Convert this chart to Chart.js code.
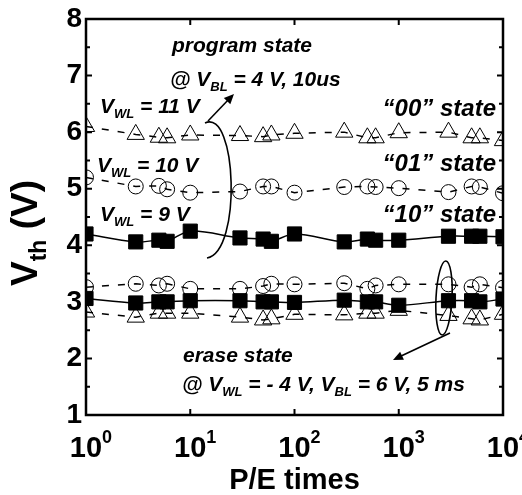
<!DOCTYPE html>
<html>
<head>
<meta charset="utf-8">
<script src="https://cdn.jsdelivr.net/npm/chart.js@4"></script>
<style>
  body { margin: 0; background: #fff; }
  #wrap { width: 522px; height: 495px; }
</style>
</head>
<body>
<div id="wrap"><canvas id="vth-chart"></canvas></div>
<script>
// P/E cycle counts
const peTimes = [1, 3, 5, 6, 10, 30, 50, 60, 100, 300, 500, 600, 1000, 3000, 5000, 6000, 10000];

// program states
const prog00 = [6.1, 5.96, 5.91, 5.9, 5.95, 5.94, 5.92, 5.95, 5.98, 6.0, 5.9, 5.9, 5.99, 6.0, 5.9, 5.9, 5.85];
const prog01 = [5.2, 5.04, 5.05, 4.99, 4.93, 4.95, 5.04, 5.04, 4.93, 5.03, 5.04, 5.03, 5.01, 4.94, 5.04, 5.03, 4.92];
const prog10 = [4.2, 4.06, 4.09, 4.07, 4.25, 4.13, 4.11, 4.07, 4.2, 4.06, 4.11, 4.09, 4.09, 4.16, 4.16, 4.16, 4.15];

// erase states
const erase01 = [3.26, 3.32, 3.29, 3.32, 3.23, 3.23, 3.28, 3.32, 3.31, 3.33, 3.23, 3.29, 3.31, 3.31, 3.26, 3.31, 3.25];
const erase10 = [3.06, 2.98, 3.0, 3.0, 3.02, 3.02, 3.0, 3.0, 2.99, 3.03, 3.0, 3.0, 2.94, 3.02, 3.02, 3.0, 3.05];
const erase00 = [2.82, 2.73, 2.8, 2.8, 2.8, 2.73, 2.68, 2.7, 2.78, 2.77, 2.8, 2.8, 2.85, 2.76, 2.7, 2.68, 2.78];

const xTicks = [1, 10, 100, 1000, 10000];
const yTicks = [1, 2, 3, 4, 5, 6, 7, 8];

const FONT = '"Liberation Sans", Arial, sans-serif';

function pts(vals) {
  return peTimes.map((x, i) => ({ x: x, y: vals[i] }));
}

function series(vals, style, dashed) {
  return {
    data: pts(vals),
    borderColor: '#000',
    borderWidth: 1.5,
    borderDash: dashed ? [7, 9] : [],
    tension: dashed ? 0 : 0.35,
    pointStyle: style,
    pointRadius: style === 'circle' ? 7.5 : 10,
    pointBorderWidth: 1,
    pointBorderColor: '#000',
    pointBackgroundColor: style === 'rect' ? '#000' : 'rgba(255,255,255,0)',
    clip: 0
  };
}

// text with sub/superscripts: parts = [[text, 'n'|'sub'|'sup'], ...]
function richText(ctx, parts, x, y, size, align, style) {
  const big = `${style} ${size}px ${FONT}`;
  const small = `${style} ${Math.round(size * 0.62)}px ${FONT}`;
  let w = 0;
  parts.forEach(p => {
    ctx.font = p[1] === 'n' ? big : small;
    w += ctx.measureText(p[0]).width;
  });
  let cx = align === 'right' ? x - w : align === 'center' ? x - w / 2 : x;
  ctx.textBaseline = 'alphabetic';
  ctx.textAlign = 'left';
  parts.forEach(p => {
    ctx.font = p[1] === 'n' ? big : small;
    let dy = 0;
    if (p[1] === 'sub') dy = size * 0.25;
    if (p[1] === 'sup') dy = -size * 0.5;
    ctx.fillText(p[0], cx, y + dy);
    cx += ctx.measureText(p[0]).width;
  });
}

function arrowHead(ctx, x0, y0, x1, y1, len, wid) {
  const a = Math.atan2(y1 - y0, x1 - x0);
  ctx.beginPath();
  ctx.moveTo(x1, y1);
  ctx.lineTo(x1 - len * Math.cos(a) + wid * Math.sin(a), y1 - len * Math.sin(a) - wid * Math.cos(a));
  ctx.lineTo(x1 - len * Math.cos(a) - wid * Math.sin(a), y1 - len * Math.sin(a) + wid * Math.cos(a));
  ctx.closePath();
  ctx.fill();
}

const framePlugin = {
  id: 'frame',
  afterDraw(chart) {
    const ctx = chart.ctx;
    const a = chart.chartArea;
    const xs = chart.scales.x;
    const ys = chart.scales.y;
    ctx.save();
    ctx.fillStyle = '#000';
    ctx.strokeStyle = '#000';

    // ticks, inside
    ctx.lineWidth = 2;
    ctx.beginPath();
    yTicks.forEach(v => {
      const py = ys.getPixelForValue(v);
      ctx.moveTo(a.left, py); ctx.lineTo(a.left + 6, py);
      ctx.moveTo(a.right, py); ctx.lineTo(a.right - 6, py);
      if (v < 8) {
        const pm = ys.getPixelForValue(v + 0.5);
        ctx.moveTo(a.left, pm); ctx.lineTo(a.left + 4, pm);
        ctx.moveTo(a.right, pm); ctx.lineTo(a.right - 4, pm);
      }
    });
    xTicks.forEach(v => {
      const px = xs.getPixelForValue(v);
      ctx.moveTo(px, a.bottom); ctx.lineTo(px, a.bottom - 6);
      ctx.moveTo(px, a.top); ctx.lineTo(px, a.top + 6);
    });
    ctx.stroke();

    // frame
    ctx.lineWidth = 2.5;
    ctx.strokeRect(a.left, a.top, a.right - a.left, a.bottom - a.top);

    // tick labels
    ctx.font = `bold 28px ${FONT}`;
    ctx.textAlign = 'right';
    ctx.textBaseline = 'middle';
    yTicks.forEach(v => {
      ctx.fillText(String(v), a.left - 4, ys.getPixelForValue(v));
    });
    xTicks.forEach(v => {
      const px = xs.getPixelForValue(v);
      const exp = Math.round(Math.log10(v));
      richText(ctx, [['10', 'n'], [String(exp), 'sup']], px + 5, 457, 29, 'center', 'bold');
    });

    // axis titles
    ctx.font = `bold 29px ${FONT}`;
    ctx.textAlign = 'center';
    ctx.textBaseline = 'alphabetic';
    ctx.fillText('P/E times', (a.left + a.right) / 2, 489);
    ctx.save();
    ctx.translate(37, 233);
    ctx.rotate(-Math.PI / 2);
    richText(ctx, [['V', 'n'], ['th', 'sub'], [' (V)', 'n']], 0, 0, 37, 'center', 'bold');
    ctx.restore();

    // annotations
    const st = 'italic bold';
    richText(ctx, [['program state', 'n']], 172, 52, 21, 'left', st);
    richText(ctx, [['@ V', 'n'], ['BL', 'sub'], [' = 4 V, 10us', 'n']], 170, 86, 21, 'left', st);
    richText(ctx, [['V', 'n'], ['WL', 'sub'], [' = 11 V', 'n']], 100, 113, 21, 'left', st);
    richText(ctx, [['V', 'n'], ['WL', 'sub'], [' = 10 V', 'n']], 97, 172, 21, 'left', st);
    richText(ctx, [['V', 'n'], ['WL', 'sub'], [' = 9 V', 'n']], 100, 221, 21, 'left', st);
    richText(ctx, [['\u201C00\u201D state', 'n']], 496, 116, 24, 'right', st);
    richText(ctx, [['\u201C01\u201D state', 'n']], 496, 171, 24, 'right', st);
    richText(ctx, [['\u201C10\u201D state', 'n']], 496, 222, 24, 'right', st);
    richText(ctx, [['erase state', 'n']], 183, 362, 21, 'left', st);
    richText(ctx, [['@ V', 'n'], ['WL', 'sub'], [' = - 4 V, V', 'n'], ['BL', 'sub'], [' = 6 V, 5 ms', 'n']], 182, 391, 21, 'left', st);

    // program curve + arrow
    ctx.lineWidth = 1.6;
    ctx.beginPath();
    ctx.moveTo(205, 123);
    ctx.bezierCurveTo(237, 108, 242, 252, 207, 258);
    ctx.stroke();
    ctx.beginPath();
    ctx.moveTo(208, 121);
    ctx.lineTo(230, 98);
    ctx.stroke();
    arrowHead(ctx, 208, 121, 234, 94, 10, 4.5);

    // erase ellipse + arrow
    ctx.beginPath();
    ctx.ellipse(444, 298, 8, 37, 0.05, 0, Math.PI * 2);
    ctx.stroke();
    ctx.beginPath();
    ctx.moveTo(450, 333);
    ctx.lineTo(399, 357);
    ctx.stroke();
    arrowHead(ctx, 450, 333, 393, 360, 10, 4.5);

    ctx.restore();
  }
};

const ctx = document.getElementById('vth-chart').getContext('2d');

const vthChart = new Chart(ctx, {
  type: 'line',
  data: {
    datasets: [
      series(prog00, 'triangle', true),
      series(prog01, 'circle', true),
      series(prog10, 'rect', false),
      series(erase01, 'circle', true),
      series(erase00, 'triangle', true),
      series(erase10, 'rect', false)
    ]
  },
  options: {
    responsive: true,
    maintainAspectRatio: false,
    animation: false,
    layout: { padding: { left: 86, right: 19, top: 19, bottom: 80 } },
    plugins: {
      legend: { display: false },
      tooltip: { enabled: false }
    },
    scales: {
      x: { type: 'logarithmic', min: 1, max: 10000, display: false },
      y: { type: 'linear', min: 1, max: 8, display: false }
    }
  },
  plugins: [framePlugin]
});
</script>
</body>
</html>
